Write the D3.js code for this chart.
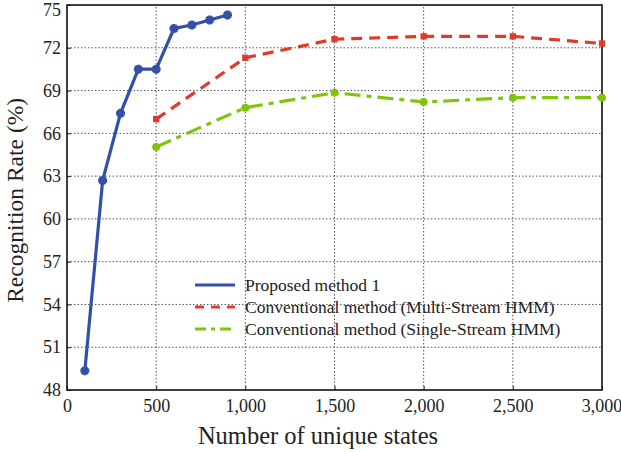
<!DOCTYPE html>
<html>
<head>
<meta charset="utf-8">
<script src="https://cdn.jsdelivr.net/npm/d3@7"></script>
<style>
  body { margin: 0; background: #fff; }
  svg text { font-family: "Liberation Serif", "DejaVu Serif", serif; fill: #222; }
</style>
</head>
<body>
<div id="chart"></div>
<script>
// data
var proposedX = [100, 200, 300, 400, 500, 600, 700, 800, 900];
var proposedY = [49.35, 62.7, 67.4, 70.5, 70.5, 73.35, 73.6, 73.95, 74.3];
var multiX = [500, 1000, 1500, 2000, 2500, 3000];
var multiY = [67.0, 71.3, 72.6, 72.8, 72.8, 72.3];
var singleX = [500, 1000, 1500, 2000, 2500, 3000];
var singleY = [65.05, 67.8, 68.85, 68.2, 68.5, 68.5];
var xTicks = [0, 500, 1000, 1500, 2000, 2500, 3000];
var yTicks = [48, 51, 54, 57, 60, 63, 66, 69, 72, 75];
var seriesNames = ["Proposed method 1", "Conventional method (Multi-Stream HMM)", "Conventional method (Single-Stream HMM)"];

var width = 621, height = 452;
var margin = {top: 5, right: 19, bottom: 62, left: 67};

var svg = d3.select("#chart").append("svg")
    .attr("width", width)
    .attr("height", height);

var xScale = d3.scaleLinear().domain([0, 3000]).range([margin.left, width - margin.right]);
var yScale = d3.scaleLinear().domain([48, 75]).range([height - margin.bottom, margin.top]);

// dotted grid
svg.selectAll(".vgrid").data(xTicks.slice(1, -1)).enter().append("line")
    .attr("x1", function(d) { return xScale(d); }).attr("x2", function(d) { return xScale(d); })
    .attr("y1", yScale(48)).attr("y2", yScale(75))
    .style("stroke", "#555").style("stroke-width", 1).style("stroke-dasharray", "1.5,2");
svg.selectAll(".hgrid").data(yTicks.slice(1, -1)).enter().append("line")
    .attr("x1", xScale(0)).attr("x2", xScale(3000))
    .attr("y1", function(d) { return yScale(d); }).attr("y2", function(d) { return yScale(d); })
    .style("stroke", "#555").style("stroke-width", 1).style("stroke-dasharray", "1.5,2");

// axes
var xAxis = svg.append("g")
    .attr("transform", "translate(0," + yScale(48) + ")")
    .call(d3.axisBottom(xScale).tickValues(xTicks).tickSizeInner(-4).tickSizeOuter(0)
      .tickFormat(d3.format(",")));
var yAxis = svg.append("g")
    .attr("transform", "translate(" + xScale(0) + ",0)")
    .call(d3.axisLeft(yScale).tickValues(yTicks).tickSizeInner(-4).tickSizeOuter(0));
[xAxis, yAxis].forEach(function(a) {
  a.select(".domain").remove();
  a.selectAll("text").style("font-size", "18px").style("font-family", "Liberation Serif, serif").attr("fill", "#222");
  a.selectAll(".tick line").style("stroke", "#222");
});
xAxis.selectAll("text").attr("dy", "0.95em").attr("y", 5);
xAxis.selectAll("text").filter(function(d) { return d == 3000; }).attr("text-anchor", "end").attr("dx", "1.1em");
yAxis.selectAll("text").attr("x", -6);
yAxis.selectAll("text").filter(function(d) { return d == 75; }).attr("y", 5);

// frame
svg.append("rect")
    .attr("x", xScale(0)).attr("y", yScale(75))
    .attr("width", xScale(3000) - xScale(0)).attr("height", yScale(48) - yScale(75))
    .style("fill", "none").style("stroke", "#111").style("stroke-width", 1.6);

var line = d3.line()
    .x(function(d) { return xScale(d[0]); })
    .y(function(d) { return yScale(d[1]); });

var series = [
  {x: proposedX, y: proposedY, color: "#3450a6", dash: null, marker: "star"},
  {x: multiX, y: multiY, color: "#e2392b", dash: "11,7", marker: "square"},
  {x: singleX, y: singleY, color: "#7ec50d", dash: "16,6,5,6", marker: "circle"}
];

series.forEach(function(s) {
  var pts = s.x.map(function(v, i) { return [v, s.y[i]]; });
  svg.append("path")
      .datum(pts)
      .attr("d", line)
      .style("fill", "none")
      .style("stroke", s.color)
      .style("stroke-width", 3.2)
      .style("stroke-dasharray", s.dash);
  var sym = s.marker == "star" ? d3.symbolCross : (s.marker == "square" ? d3.symbolSquare : d3.symbolCircle);
  var sz = s.marker == "star" ? 45 : (s.marker == "square" ? 40 : 50);
  svg.selectAll(".m" + s.marker).data(pts).enter().append("path")
      .attr("d", d3.symbol().type(sym).size(sz))
      .attr("transform", function(d) { return "translate(" + xScale(d[0]) + "," + yScale(d[1]) + ")"; })
      .style("fill", s.color);
  if (s.marker == "star") {
    svg.selectAll(".mstar2").data(pts).enter().append("path")
        .attr("d", d3.symbol().type(d3.symbolCross).size(45))
        .attr("transform", function(d) { return "translate(" + xScale(d[0]) + "," + yScale(d[1]) + ") rotate(45)"; })
        .style("fill", s.color);
    svg.selectAll(".mstar3").data(pts).enter().append("circle")
        .attr("cx", function(d) { return xScale(d[0]); })
        .attr("cy", function(d) { return yScale(d[1]); })
        .attr("r", 3)
        .style("fill", s.color);
  }
});

// legend
var legend = svg.append("g").attr("transform", "translate(195,285)");
series.forEach(function(s, i) {
  var row = legend.append("g").attr("transform", "translate(0," + (i * 22) + ")");
  row.append("line")
      .attr("x1", 0).attr("x2", 40).attr("y1", 0).attr("y2", 0)
      .style("stroke", s.color).style("stroke-width", 3)
      .style("stroke-dasharray", i == 0 ? null : (i == 1 ? "9,7" : "11,5,4,5"));
  row.append("text")
      .attr("x", 50).attr("y", 0).attr("dy", "0.35em")
      .style("font-size", "17.5px")
      .text(seriesNames[i]);
});

// axis titles
svg.append("text")
    .attr("x", 318).attr("y", 444)
    .attr("text-anchor", "middle")
    .style("font-size", "24.5px")
    .text("Number of unique states");
svg.append("text")
    .attr("transform", "translate(23," + (yScale(61.3)) + ") rotate(-90)")
    .attr("text-anchor", "middle")
    .style("font-size", "23.5px")
    .text("Recognition Rate (%)");
</script>
</body>
</html>
